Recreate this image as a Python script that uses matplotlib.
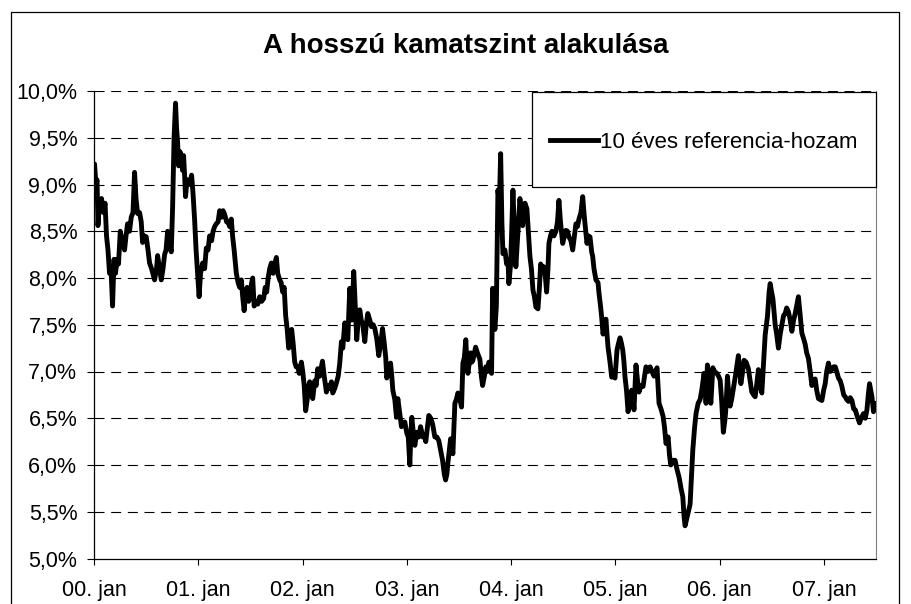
import matplotlib
matplotlib.use("Agg")
import matplotlib.pyplot as plt
from matplotlib.lines import Line2D
from matplotlib.patches import Rectangle

plt.rcParams['font.family'] = ['Liberation Sans', 'DejaVu Sans']

# Data: time in years since 2000 jan, yield in %
years_from_2000 = [
    0.005, 0.019, 0.029, 0.038, 0.053, 0.072, 0.091, 0.106, 0.120, 0.134,
    0.149, 0.163, 0.178, 0.192, 0.206, 0.221, 0.235, 0.252, 0.269, 0.293,
    0.307, 0.322, 0.341, 0.357, 0.374, 0.389, 0.403, 0.418, 0.437, 0.453,
    0.466, 0.485, 0.501, 0.518, 0.533, 0.552, 0.581, 0.600, 0.610, 0.629,
    0.645, 0.662, 0.677, 0.691, 0.706, 0.725, 0.741, 0.754, 0.768, 0.782,
    0.792, 0.802, 0.811, 0.826, 0.837, 0.850, 0.859, 0.869, 0.878, 0.888,
    0.898, 0.917, 0.936, 0.950, 0.965, 0.979, 0.994, 1.008, 1.022, 1.042,
    1.061, 1.077, 1.094, 1.109, 1.128, 1.142, 1.157, 1.173, 1.190, 1.205,
    1.224, 1.238, 1.253, 1.272, 1.286, 1.301, 1.317, 1.330, 1.344, 1.365,
    1.382, 1.397, 1.413, 1.426, 1.440, 1.454, 1.469, 1.483, 1.498, 1.512,
    1.522, 1.536, 1.550, 1.570, 1.589, 1.608, 1.627, 1.642, 1.656, 1.670,
    1.685, 1.701, 1.718, 1.733, 1.749, 1.762, 1.781, 1.795, 1.810, 1.824,
    1.838, 1.853, 1.867, 1.882, 1.896, 1.910, 1.925, 1.939, 1.954, 1.968,
    1.989, 2.002, 2.016, 2.030, 2.045, 2.059, 2.069, 2.083, 2.098, 2.117,
    2.131, 2.146, 2.165, 2.191, 2.208, 2.229, 2.246, 2.261, 2.277, 2.290,
    2.309, 2.328, 2.342, 2.357, 2.373, 2.386, 2.405, 2.419, 2.434, 2.443,
    2.453, 2.462, 2.472, 2.482, 2.491, 2.506, 2.520, 2.534, 2.549, 2.563,
    2.578, 2.597, 2.611, 2.626, 2.645, 2.661, 2.678, 2.693, 2.712, 2.731,
    2.750, 2.767, 2.784, 2.798, 2.808, 2.822, 2.844, 2.856, 2.866, 2.885,
    2.901, 2.914, 2.933, 2.949, 2.966, 2.981, 3.000, 3.014, 3.029, 3.038,
    3.048, 3.062, 3.077, 3.096, 3.115, 3.132, 3.154, 3.168, 3.182, 3.197,
    3.211, 3.230, 3.247, 3.269, 3.288, 3.307, 3.326, 3.343, 3.360, 3.372,
    3.384, 3.394, 3.420, 3.432, 3.442, 3.461, 3.475, 3.490, 3.509, 3.525,
    3.538, 3.552, 3.566, 3.576, 3.586, 3.600, 3.612, 3.624, 3.634, 3.648,
    3.660, 3.677, 3.701, 3.715, 3.727, 3.744, 3.758, 3.773, 3.787, 3.802,
    3.813, 3.823, 3.835, 3.845, 3.859, 3.874, 3.888, 3.900, 3.912, 3.922,
    3.941, 3.957, 3.970, 3.979, 3.996, 4.008, 4.018, 4.032, 4.046, 4.066,
    4.085, 4.099, 4.111, 4.123, 4.133, 4.152, 4.166, 4.181, 4.195, 4.210,
    4.224, 4.238, 4.258, 4.272, 4.284, 4.301, 4.315, 4.330, 4.341, 4.354,
    4.363, 4.378, 4.392, 4.411, 4.430, 4.445, 4.459, 4.474, 4.495, 4.512,
    4.526, 4.541, 4.555, 4.574, 4.591, 4.608, 4.622, 4.637, 4.651, 4.670,
    4.687, 4.699, 4.709, 4.728, 4.742, 4.757, 4.773, 4.783, 4.795, 4.814,
    4.834, 4.843, 4.858, 4.869, 4.882, 4.896, 4.910, 4.920, 4.930, 4.949,
    4.965, 4.982, 4.997, 5.016, 5.030, 5.045, 5.059, 5.071, 5.083, 5.093,
    5.107, 5.122, 5.141, 5.157, 5.170, 5.179, 5.198, 5.213, 5.227, 5.246,
    5.266, 5.280, 5.294, 5.314, 5.333, 5.352, 5.371, 5.386, 5.400, 5.419,
    5.438, 5.458, 5.472, 5.486, 5.506, 5.520, 5.532, 5.554, 5.573, 5.592,
    5.611, 5.630, 5.647, 5.659, 5.669, 5.688, 5.717, 5.731, 5.743, 5.760,
    5.774, 5.794, 5.813, 5.829, 5.851, 5.861, 5.870, 5.883, 5.899, 5.916,
    5.935, 5.952, 5.973, 5.990, 6.005, 6.019, 6.036, 6.053, 6.062, 6.075,
    6.091, 6.101, 6.115, 6.130, 6.144, 6.158, 6.180, 6.204, 6.221, 6.235,
    6.254, 6.276, 6.293, 6.309, 6.326, 6.341, 6.355, 6.372, 6.389, 6.405,
    6.422, 6.437, 6.459, 6.475, 6.485, 6.499, 6.511, 6.533, 6.547, 6.564,
    6.581, 6.597, 6.614, 6.629, 6.643, 6.660, 6.677, 6.693, 6.710, 6.725,
    6.739, 6.756, 6.773, 6.789, 6.806, 6.821, 6.835, 6.852, 6.869, 6.885,
    6.902, 6.917, 6.931, 6.948, 6.965, 6.981, 6.998, 7.013, 7.027, 7.044,
    7.061, 7.077, 7.094, 7.109, 7.123, 7.140, 7.157, 7.173, 7.190, 7.205,
    7.219, 7.236, 7.253, 7.269, 7.286, 7.301, 7.320, 7.342, 7.358, 7.380,
    7.397, 7.413, 7.426, 7.438, 7.450, 7.461, 7.476, 7.493,
]

yield_pct = [
    9.22, 9.00, 9.05, 8.56, 8.80, 8.85, 8.70, 8.80, 8.45, 8.30,
    8.05, 8.10, 7.70, 8.20, 8.05, 8.20, 8.15, 8.50, 8.40, 8.30,
    8.45, 8.58, 8.50, 8.65, 8.70, 9.13, 8.85, 8.69, 8.70, 8.60,
    8.38, 8.45, 8.44, 8.30, 8.16, 8.10, 7.98, 8.10, 8.24, 8.10,
    7.98, 8.10, 8.25, 8.30, 8.50, 8.35, 8.28, 8.76, 9.50, 9.87,
    9.60, 9.45, 9.20, 9.35, 9.25, 9.15, 9.31, 9.10, 8.87, 9.00,
    9.05, 9.00, 9.10, 8.90, 8.62, 8.30, 8.05, 7.80, 8.05, 8.16,
    8.10, 8.32, 8.30, 8.45, 8.40, 8.50, 8.55, 8.58, 8.60, 8.72,
    8.65, 8.72, 8.68, 8.60, 8.60, 8.55, 8.63, 8.44, 8.30, 8.05,
    7.95, 7.90, 7.98, 7.80, 7.65, 7.85, 7.90, 7.75, 7.80, 7.95,
    8.00, 7.70, 7.75, 7.72, 7.80, 7.75, 7.78, 7.90, 7.85, 8.00,
    8.10, 8.16, 8.05, 8.15, 8.22, 8.05, 7.98, 7.95, 7.85, 7.90,
    7.60, 7.45, 7.25, 7.40, 7.45, 7.30, 7.10, 7.05, 7.05, 6.98,
    7.10, 7.00, 6.85, 6.58, 6.70, 6.85, 6.89, 6.78, 6.71, 6.90,
    6.85, 7.03, 6.95, 7.11, 6.95, 6.78, 6.85, 6.82, 6.89, 6.77,
    6.82, 6.89, 6.95, 7.09, 7.32, 7.25, 7.52, 7.45, 7.34, 7.60,
    7.89, 7.75, 7.55, 7.80, 8.07, 7.70, 7.34, 7.55, 7.66, 7.55,
    7.50, 7.32, 7.50, 7.62, 7.55, 7.48, 7.50, 7.46, 7.35, 7.17,
    7.30, 7.46, 7.30, 7.15, 6.93, 7.00, 7.09, 6.95, 6.80, 6.70,
    6.51, 6.71, 6.55, 6.41, 6.45, 6.46, 6.34, 6.30, 6.00, 6.30,
    6.51, 6.35, 6.21, 6.35, 6.30, 6.41, 6.30, 6.32, 6.25, 6.40,
    6.53, 6.50, 6.44, 6.30, 6.30, 6.26, 6.15, 6.05, 5.90, 5.84,
    5.90, 6.02, 6.28, 6.20, 6.12, 6.66, 6.70, 6.77, 6.70, 6.62,
    7.09, 7.15, 7.34, 7.10, 6.98, 7.10, 7.20, 7.10, 7.12, 7.20,
    7.26, 7.20, 7.13, 6.95, 6.85, 6.95, 7.05, 7.00, 7.10, 7.05,
    6.98, 7.89, 7.60, 7.45, 7.70, 8.94, 8.80, 9.33, 8.60, 8.26,
    8.30, 8.15, 8.20, 7.94, 8.15, 8.60, 8.94, 8.50, 8.12, 8.50,
    8.85, 8.70, 8.56, 8.70, 8.80, 8.74, 8.50, 8.23, 8.10, 7.87,
    7.80, 7.69, 7.67, 7.90, 8.15, 8.10, 8.12, 8.00, 7.85, 8.10,
    8.37, 8.45, 8.50, 8.45, 8.50, 8.60, 8.83, 8.60, 8.37, 8.45,
    8.51, 8.50, 8.44, 8.40, 8.30, 8.45, 8.58, 8.55, 8.63, 8.70,
    8.87, 8.70, 8.58, 8.37, 8.45, 8.44, 8.28, 8.23, 8.10, 7.98,
    7.95, 7.84, 7.70, 7.58, 7.40, 7.50, 7.56, 7.40, 7.26, 7.10,
    6.94, 6.95, 6.93, 7.23, 7.30, 7.36, 7.30, 7.23, 7.10, 6.94,
    6.80, 6.57, 6.70, 6.80, 6.70, 6.59, 7.07, 6.90, 6.78, 6.85,
    6.84, 6.95, 7.05, 7.00, 7.05, 7.00, 6.95, 7.00, 7.04, 6.66,
    6.60, 6.52, 6.40, 6.23, 6.30, 6.10, 6.00, 6.05, 6.05, 5.95,
    5.87, 5.75, 5.66, 5.45, 5.35, 5.44, 5.58, 5.90, 6.16, 6.40,
    6.55, 6.66, 6.70, 6.80, 6.98, 6.85, 6.66, 7.07, 6.90, 6.66,
    7.04, 7.00, 6.98, 6.95, 6.91, 6.70, 6.35, 6.50, 6.63, 6.95,
    6.70, 6.63, 6.70, 6.80, 6.90, 7.00, 7.17, 6.87, 7.00, 7.12,
    7.10, 7.03, 6.90, 6.78, 6.75, 6.73, 6.85, 7.02, 6.85, 6.77,
    7.10, 7.39, 7.59, 7.85, 7.94, 7.85, 7.78, 7.50, 7.40, 7.25,
    7.40, 7.50, 7.60, 7.62, 7.68, 7.64, 7.55, 7.43, 7.55, 7.62,
    7.70, 7.80, 7.60, 7.41, 7.35, 7.29, 7.20, 7.14, 7.00, 6.85,
    6.90, 6.92, 6.80, 6.71, 6.70, 6.69, 6.80, 6.87, 7.00, 7.09,
    7.00, 7.02, 7.05, 7.05, 7.00, 6.93, 6.90, 6.84, 6.75, 6.73,
    6.70, 6.68, 6.72, 6.69, 6.60, 6.59, 6.52, 6.45, 6.50, 6.55,
    6.50, 6.59, 6.75, 6.87, 6.80, 6.73, 6.57, 6.66,
]

year_ticks = [0, 1, 2, 3, 4, 5, 6, 7]
year_labels = ['00. jan', '01. jan', '02. jan', '03. jan',
               '04. jan', '05. jan', '06. jan', '07. jan']
pct_ticks = [5.0, 5.5, 6.0, 6.5, 7.0, 7.5, 8.0, 8.5, 9.0, 9.5, 10.0]
pct_labels = [('%.1f%%' % v).replace('.', ',') for v in pct_ticks]

fig = plt.figure(figsize=(9.11, 6.04), dpi=100)
W, H = 911.0, 604.0

# outer chart border (bottom edge falls outside the picture)
fig.add_artist(Line2D([11 / W, 11 / W, 899 / W, 899 / W], [0, 1 - 12 / H, 1 - 12 / H, 0],
                      color='black', lw=0.9, transform=fig.transFigure))

ax = fig.add_axes([94 / W, 1 - 558.5 / H, 782 / W, 467.5 / H])

for v in pct_ticks[1:]:
    ax.axhline(v, color='black', lw=0.8, linestyle=(0, (9, 6)), zorder=1)

ax.plot(years_from_2000, yield_pct, color='black', lw=3.5, zorder=3,
        solid_joinstyle='round', solid_capstyle='round')

ax.set_xlim(0, 7.5)
ax.set_ylim(5.0, 10.0)
ax.set_xticks(year_ticks)
ax.set_xticklabels(year_labels, fontsize=15.5)
ax.set_yticks(pct_ticks)
ax.set_yticklabels(pct_labels, fontsize=15.5)
ax.tick_params(axis='y', direction='out', length=5, width=0.8, pad=7)
ax.tick_params(axis='x', direction='out', length=4.5, width=0.8, pad=11)

ax.spines['top'].set_visible(False)
ax.spines['right'].set_color('#808080')
ax.spines['left'].set_linewidth(0.9)
ax.spines['bottom'].set_linewidth(0.9)

fig.text(466 / W, 1 - 46 / H, 'A hosszú kamatszint alakulása',
         ha='center', va='center', fontsize=20, fontweight='bold')

# legend box, drawn inside the axes so the legend can sit on top of it
box = Rectangle((532 / W, 1 - 187 / H), 344 / W, 95 / H,
                transform=fig.transFigure, facecolor='white',
                edgecolor='black', lw=0.9, zorder=5, clip_on=False)
ax.add_patch(box)
leg = ax.legend([Line2D([], [], color='black', lw=3.5)], ['10 éves referencia-hozam'],
                loc='center', bbox_to_anchor=(532 / W, 1 - 190 / H, 344 / W, 95 / H),
                bbox_transform=fig.transFigure, frameon=False, fontsize=16,
                handlelength=2.15, handletextpad=0.1, borderpad=0)
leg.set_zorder(6)

fig.savefig('out.png', dpi=100)
